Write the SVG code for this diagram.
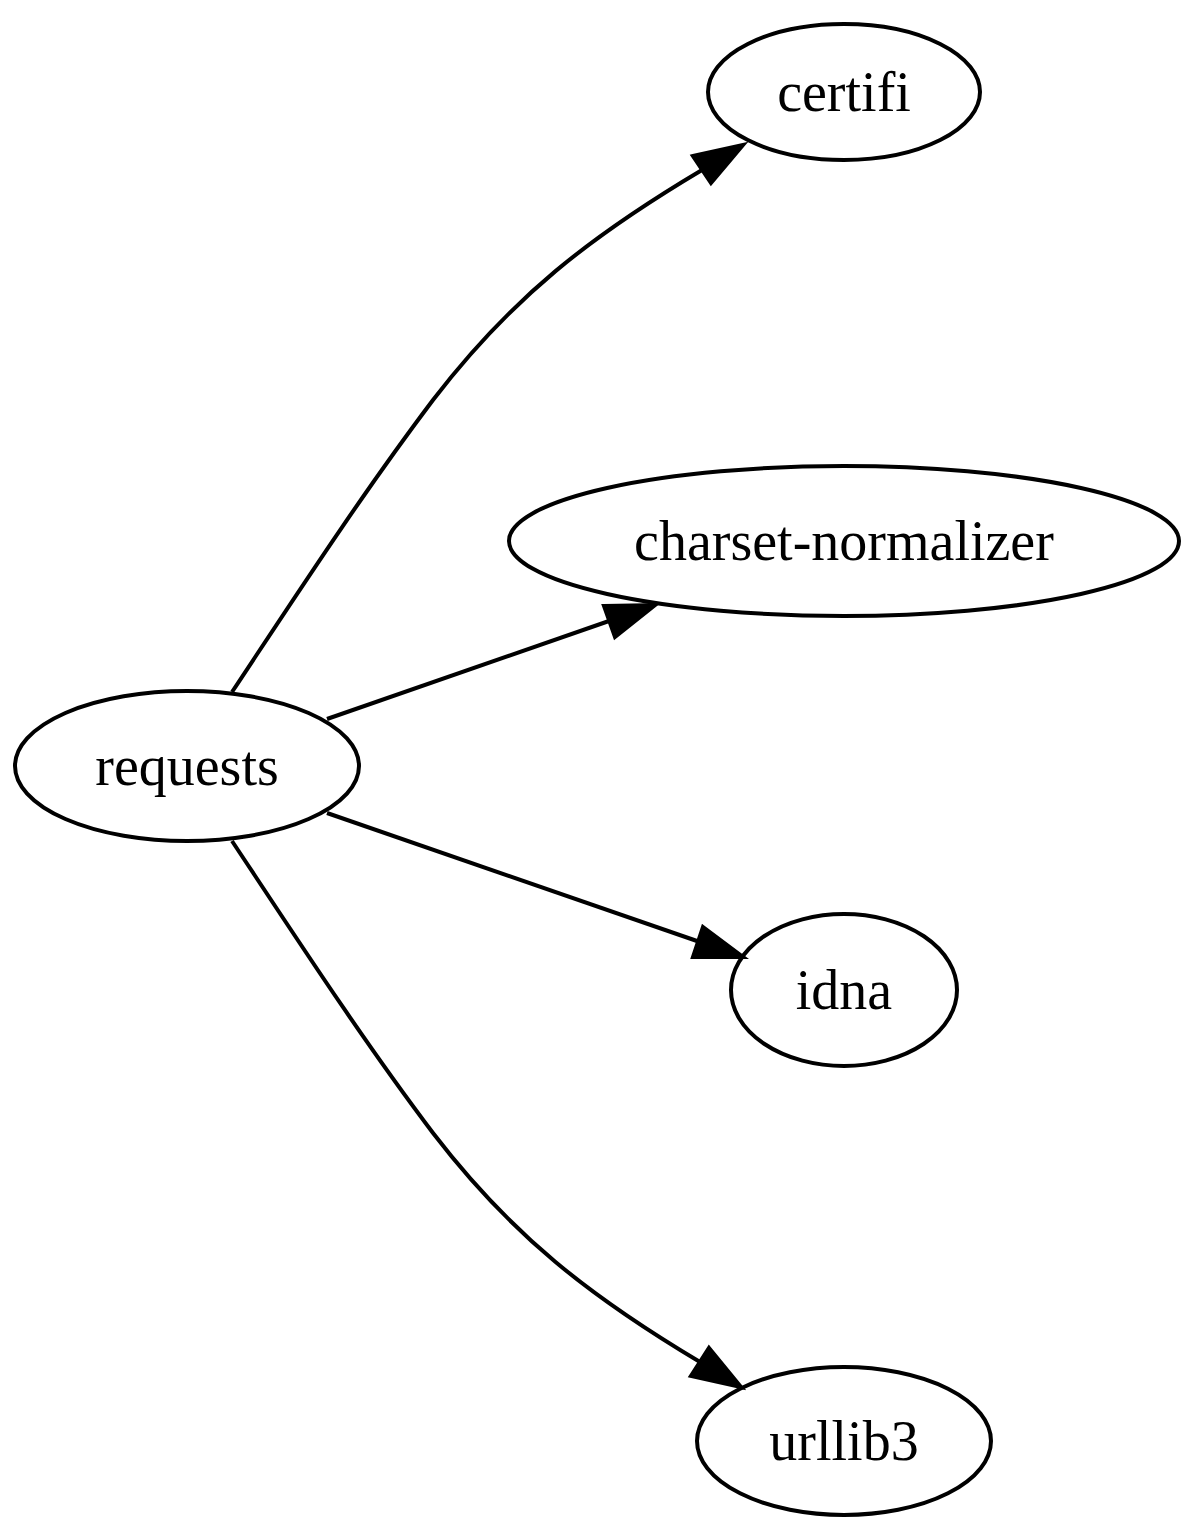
<svg xmlns="http://www.w3.org/2000/svg" width="1197" height="1533" viewBox="0 0 1197 1533">
<style>
.n ellipse{fill:none;stroke:#000;stroke-width:4}
.n text{font-family:"Liberation Serif","Times New Roman",serif;font-size:56px;text-anchor:middle;fill:#000}
.e path{fill:none;stroke:#000;stroke-width:4}
.e polygon{fill:#000;stroke:#000;stroke-width:4}
</style>
<rect width="1197" height="1533" fill="#fff"/>
<g id="edges" class="e">
<path d="M232,692 C297,594 362,494 433,400 C512,297 591,236 702,170"/>
<polygon points="693,156 743,145 711,183"/>
<path d="M327,719 L609,621"/>
<polygon points="604,606 655,605 615,637"/>
<path d="M327,813 L697,941"/>
<polygon points="703,927 743,957 693,957"/>
<path d="M232,841 C297,939 362,1039 433,1133 C512,1236 591,1297 700,1362"/>
<polygon points="709,1348 741,1387 691,1376"/>
</g>
<g id="requests" class="n"><ellipse cx="187" cy="766" rx="172" ry="75"/><text x="187" y="785">requests</text></g>
<g id="certifi" class="n"><ellipse cx="844" cy="92" rx="136" ry="68"/><text x="844" y="111">certifi</text></g>
<g id="charset-normalizer" class="n"><ellipse cx="844" cy="541" rx="335" ry="75"/><text x="844" y="560">charset-normalizer</text></g>
<g id="idna" class="n"><ellipse cx="844" cy="990" rx="113" ry="76"/><text x="844" y="1009">idna</text></g>
<g id="urllib3" class="n"><ellipse cx="844" cy="1441" rx="147" ry="74"/><text x="844" y="1460">urllib3</text></g>
</svg>
